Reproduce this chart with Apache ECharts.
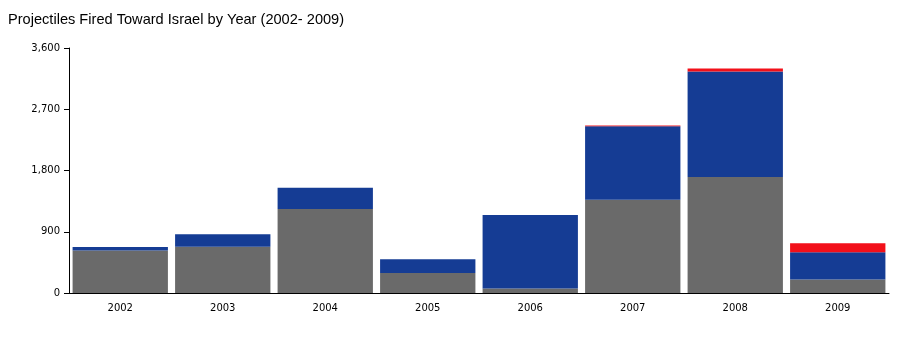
<!DOCTYPE html>
<html><head><meta charset="utf-8">
<script src="https://cdn.jsdelivr.net/npm/echarts@6/dist/echarts.min.js"></script>
<style>html,body{margin:0;padding:0;background:#fff}#c{width:898px;height:339px}</style>
</head><body><div id="c"></div>
<script>
const years = ['2002','2003','2004','2005','2006','2007','2008','2009'];
const grayVals = [625, 680, 1235, 295, 65, 1370, 1705, 200];
const blueVals = [50, 185, 310, 200, 1080, 1080, 1550, 400];
const redVals = [0, 0, 0, 0, 0, 10, 45, 130];
const yTicks = [0, 900, 1800, 2700, 3600];

const chart = echarts.init(document.getElementById('c'), null, {renderer:'canvas'});
const mk = (name, data, color) => ({
  name, type:'bar', stack:'t', data, barCategoryGap:'7%',
  itemStyle:{color}, emphasis:{disabled:true}
});
chart.setOption({
  animation:false,
  title:{text:'Projectiles Fired Toward Israel by Year (2002- 2009)', left:3, top:7,
    textStyle:{fontFamily:'Liberation Sans', fontSize:14.6, fontWeight:'normal', color:'#000'}},
  grid:{left:69, right:9, top:48, bottom:46},
  xAxis:{type:'category', data:years,
    axisLine:{lineStyle:{color:'#000', width:1}},
    axisTick:{alignWithLabel:true, length:5, lineStyle:{color:'#000'}},
    axisLabel:{fontFamily:'DejaVu Sans', fontSize:10, color:'#000', margin:10}},
  yAxis:{type:'value', min:yTicks[0], max:yTicks[yTicks.length-1], interval:900,
    axisLine:{show:true, lineStyle:{color:'#000', width:1}},
    axisTick:{show:true, length:5, lineStyle:{color:'#000'}},
    splitLine:{show:false},
    axisLabel:{fontFamily:'DejaVu Sans', fontSize:10, color:'#000', margin:9,
      formatter:v=>v.toLocaleString('en-US')}},
  series:[mk('Mortars', grayVals, '#6a6a6a'), mk('Rockets', blueVals, '#153c94'), mk('Other', redVals, '#f2101a')]
});
</script></body></html>
